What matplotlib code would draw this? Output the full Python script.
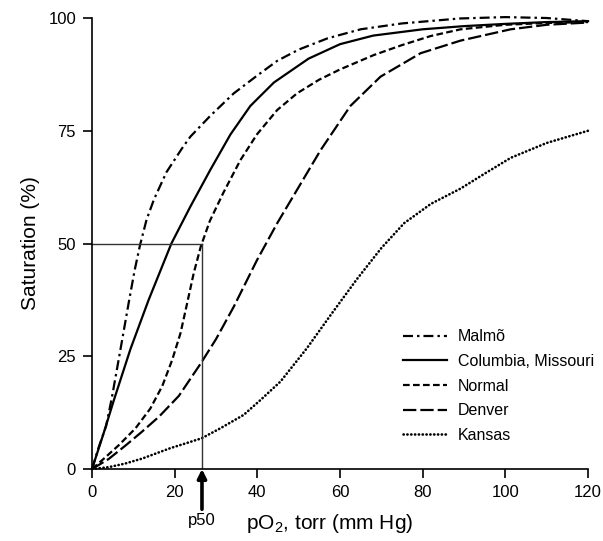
import numpy as np
import matplotlib
matplotlib.use("Agg")
import matplotlib.pyplot as plt

plt.rcParams['font.family'] = ['Liberation Sans', 'DejaVu Sans']
plt.rcParams['mathtext.default'] = 'regular'

# values (pO2 in torr, saturation in %)
malmo_x = [0, 1.5, 3.4, 4.8, 6.9, 8.9, 10.3, 11.6, 13.2, 15, 18, 21.7, 23.8, 28.6,
           34.3, 39.9, 44.8, 50, 57, 65, 75, 89, 100, 110, 120]
malmo_y = [0, 4.5, 9.5, 15.8, 26.6, 37, 44, 49.6, 55.3, 59.8, 65.8, 71, 73.7, 78.3,
           83.3, 87.2, 90.5, 93, 95.5, 97.5, 98.8, 99.9, 100.2, 100, 99.3]

columbia_x = [0, 2.8, 5.3, 9.3, 13.7, 19.2, 23.8, 28.6, 33.5, 38.3, 44, 52.4, 60,
              68, 80, 90, 100, 110, 120]
columbia_y = [0, 7.9, 15.3, 26.6, 37.5, 50, 58.2, 66.3, 74.2, 80.5, 85.7, 91, 94.2,
              96.1, 97.5, 98.2, 98.7, 99.1, 99.3]

normal_x = [0, 3, 6.5, 10.5, 14.1, 17, 19.4, 21.4, 23, 24.6, 26.3, 28.5, 31.8, 35.9,
            39.9, 44.8, 49.6, 54.9, 60, 68.2, 75, 81.9, 89.2, 100, 110, 120]
normal_y = [0, 2.4, 5.3, 9, 13.4, 18.4, 24.2, 30.1, 36.7, 43.4, 49.3, 55, 61.3, 68.5,
            74.2, 79.6, 83.3, 86.3, 88.6, 91.8, 94, 96, 97.5, 98.5, 98.9, 99.1]

denver_x = [0, 4, 8.1, 12, 16.2, 21, 26.3, 30, 34.3, 39.9, 44.8, 49.6, 55.3, 62.5,
            69.8, 79.5, 89.2, 101.3, 110, 120]
denver_y = [0, 2.2, 5.2, 8.2, 11.6, 16.2, 23.4, 28.8, 36, 46.3, 54.5, 61.9, 70.7, 80.5,
            87, 92.2, 95, 97.5, 98.5, 99]

kansas_x = [0, 4, 8, 12.1, 18.9, 26.5, 31, 36.7, 41, 45.6, 52, 57.7, 64, 70, 75.5,
            82, 89.2, 95, 101.3, 110, 120]
kansas_y = [0, 0.4, 1.2, 2.3, 4.6, 6.8, 9, 12, 15.5, 19.4, 26.8, 34.1, 42, 49, 54.5,
            58.8, 62.2, 65.5, 69, 72.3, 75]

p50 = 26.6

fig = plt.figure(figsize=(6.03, 5.41), dpi=100)
ax = fig.add_axes([0.1526, 0.1331, 0.8226, 0.8336])

lw = 1.6
ax.plot(malmo_x, malmo_y, color='black', lw=lw, linestyle=(0, (4.5, 1.8, 1.1, 1.8)),
        label='Malmõ', clip_on=False)
ax.plot(columbia_x, columbia_y, color='black', lw=lw, linestyle='-',
        label='Columbia, Missouri', clip_on=False)
ax.plot(normal_x, normal_y, color='black', lw=lw, linestyle=(0, (3, 1.5)),
        label='Normal', clip_on=False)
ax.plot(denver_x, denver_y, color='black', lw=lw, linestyle=(0, (6, 1.8)),
        label='Denver', clip_on=False)
ax.plot(kansas_x, kansas_y, color='black', lw=1.9, linestyle=(0, (0.1, 1.35)),
        dash_capstyle='round', label='Kansas', clip_on=False)

# p50 guide lines
ax.plot([0, p50], [50, 50], color='#333333', lw=1.0)
ax.plot([p50, p50], [0, 50], color='#333333', lw=1.0)

ax.annotate('p50', xy=(p50, 0), xycoords='data', xytext=(0, -32),
            textcoords='offset points', ha='center', va='top', fontsize=12,
            arrowprops=dict(arrowstyle='-|>', color='black', lw=2.6,
                            mutation_scale=13, shrinkA=1, shrinkB=0))

ax.set_xlim(0, 120)
ax.set_ylim(0, 100)
ax.set_xticks([0, 20, 40, 60, 80, 100, 120])
ax.set_yticks([0, 25, 50, 75, 100])
ax.spines['top'].set_visible(False)
ax.spines['right'].set_visible(False)
ax.spines['left'].set_linewidth(1.2)
ax.spines['bottom'].set_linewidth(1.2)
ax.tick_params(direction='out', length=6.5, width=1.2, labelsize=12, pad=5)

ax.set_xlabel('pO$_2$, torr (mm Hg)', fontsize=15)
ax.xaxis.set_label_coords(0.48, -0.12)
ax.xaxis.label.set_verticalalignment('center')
ax.set_ylabel('Saturation (%)', fontsize=15)
ax.yaxis.set_label_coords(-0.125, 0.5)
ax.yaxis.label.set_verticalalignment('center')

ax.legend(loc='center left', bbox_to_anchor=(0.626, 0.184), frameon=False,
          fontsize=11.5, handlelength=2.8, handletextpad=0.65, labelspacing=0.6,
          borderpad=0, borderaxespad=0)

plt.savefig('out.png', dpi=100)
